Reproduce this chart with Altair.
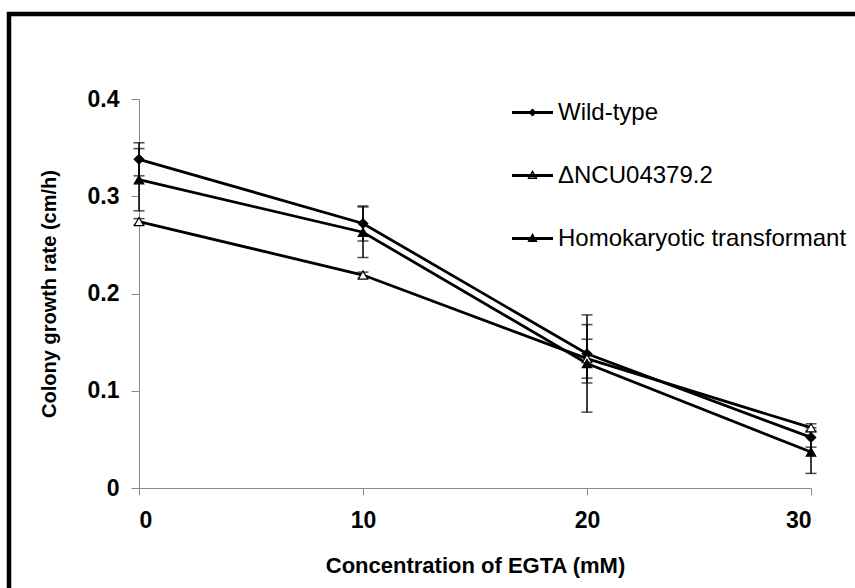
import altair as alt
import pandas as pd

# ---- data ----
conc = [0, 10, 20, 30]
series_names = ["Wild-type", "\u0394NCU04379.2", "Homokaryotic transformant"]
wt_rate = [0.338, 0.272, 0.138, 0.052]
wt_err = [0.017, 0.018, 0.030, 0.010]
dn_rate = [0.274, 0.219, 0.133, 0.062]
dn_err = [0.003, 0.003, 0.020, 0.004]
hk_rate = [0.317, 0.263, 0.128, 0.037]
hk_err = [0.032, 0.026, 0.050, 0.022]
y_ticks = [0, 0.1, 0.2, 0.3, 0.4]
x_ticks = [0, 10, 20, 30]
x_title = "Concentration of EGTA  (mM)"
y_title = "Colony growth rate (cm/h)"

rows = []
for name, vals, errs in zip(series_names, [wt_rate, dn_rate, hk_rate], [wt_err, dn_err, hk_err]):
    for c, v, e in zip(conc, vals, errs):
        rows.append({"conc": c, "rate": v, "lo": v - e, "hi": v + e, "series": name})
df = pd.DataFrame(rows)

FONT = "Liberation Sans, Arial, sans-serif"

LEFT, TOP = 139, 99
W, H = 672, 389

# legend symbols: line segment with the series marker (filled paths, unit coords)
BAR = "M-1,-0.075L1,-0.075L1,0.075L-1,0.075Z"
leg_paths = [
    BAR + "M0,-0.2L0.2,0L0,0.2L-0.2,0Z",
    BAR + "M0,-0.27L0.25,0.17L-0.25,0.17ZM0,-0.12L-0.14,0.1L0.14,0.1Z",
    BAR + "M0,-0.27L0.25,0.17L-0.25,0.17Z",
]

xscale = alt.Scale(domain=[0, 30], nice=False, zero=False)
yscale = alt.Scale(domain=[0, 0.4], nice=False)

x_axis = alt.Axis(title=x_title, values=x_ticks, format="d",
                  grid=False, domainColor="#8c8c8c", tickColor="#8c8c8c",
                  tickSize=7, labelFont=FONT, labelFontSize=23, labelFontWeight="bold",
                  labelColor="black", labelPadding=14, titleFont=FONT,
                  titleFontSize=22, titleFontWeight="bold", titleColor="black",
                  titleX=W / 2, titleY=77, titleBaseline="middle", titleAlign="center")
y_axis = alt.Axis(title=y_title, values=y_ticks,
                  labelExpr="datum.value == 0 ? '0' : format(datum.value, '.1f')",
                  grid=False, domainColor="#8c8c8c", tickColor="#8c8c8c",
                  tickSize=8, labelFont=FONT, labelFontSize=23, labelFontWeight="bold",
                  labelColor="black", labelPadding=12, titleFont=FONT,
                  titleFontSize=20, titleFontWeight="bold", titleColor="black",
                  titleX=-90, titleY=H / 2, titleAngle=-90, titleBaseline="middle",
                  titleAlign="center")

lines = alt.Chart(df).mark_line(color="black", strokeWidth=2.8).encode(
    x=alt.X("conc:Q", scale=xscale, axis=x_axis, title=x_title),
    y=alt.Y("rate:Q", scale=yscale, axis=y_axis, title=y_title),
    detail="series:N"
)

errbars = alt.Chart(df).mark_errorbar(ticks=alt.TickConfig(size=11, thickness=1.5, color="black"),
                                      color="black", thickness=1.5).encode(
    x=alt.X("conc:Q", title=x_title),
    y=alt.Y("lo:Q", scale=yscale, title=y_title), y2="hi:Q"
)

points = alt.Chart(df).mark_point(filled=True, size=90, stroke="black", strokeWidth=1.2, opacity=1).encode(
    x=alt.X("conc:Q", title=x_title), y=alt.Y("rate:Q", title=y_title),
    shape=alt.Shape("series:N", scale=alt.Scale(domain=series_names, range=["diamond", "triangle-up", "triangle-up"]),
                    legend=None),
    fill=alt.Fill("series:N", scale=alt.Scale(domain=series_names, range=["black", "white", "black"]),
                  legend=None),
)

# invisible carrier layer (size 0) that only provides the legend
legend_layer = alt.Chart(df).mark_point(filled=True, size=0, color="black", strokeWidth=0, opacity=1).encode(
    x=alt.X("conc:Q", title=x_title), y=alt.Y("rate:Q", title=y_title),
    shape=alt.Shape("series:N", scale=alt.Scale(domain=series_names, range=leg_paths),
                    legend=alt.Legend(title=None, orient="none", legendX=372, legendY=-8,
                                      symbolSize=1681, padding=0, symbolOpacity=1,
                                      labelFont=FONT, labelFontSize=24, labelColor="black",
                                      labelOffset=4, rowPadding=29, labelLimit=400)),
)

frame_df = pd.DataFrame({"k": [0]})
frame_left = alt.Chart(frame_df).mark_rule(color="black", strokeWidth=4.5).encode(
    x=alt.value(9 - LEFT), y=alt.value(12 - TOP), y2=alt.value(600 - TOP))
frame_top = alt.Chart(frame_df).mark_rule(color="black", strokeWidth=4.5).encode(
    x=alt.value(7 - LEFT), x2=alt.value(860 - LEFT), y=alt.value(14 - TOP))

chart = alt.layer(lines, errbars, points, legend_layer, frame_left, frame_top).resolve_scale(
    shape="independent"
).properties(
    width=W, height=H, autosize=alt.AutoSizeParams(type="none"),
    padding={"left": LEFT, "top": TOP, "right": 855 - LEFT - W, "bottom": 588 - TOP - H},
    background="white",
).configure_view(stroke=None)

chart.save("out.html", embed_options={"renderer": "svg", "actions": False})
